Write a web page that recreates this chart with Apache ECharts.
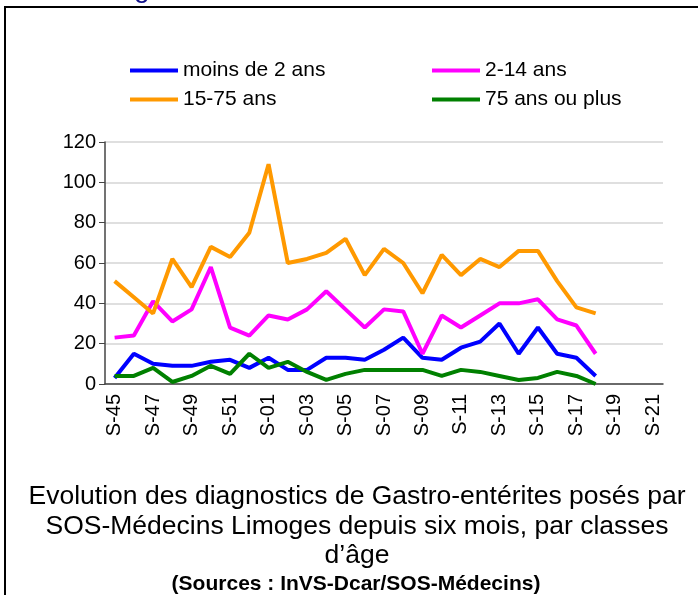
<!DOCTYPE html>
<html>
<head>
<meta charset="utf-8">
<script src="https://cdn.jsdelivr.net/npm/echarts@6/dist/echarts.min.js"></script>
<style>
html, body { margin: 0; padding: 0; background: #fff; }
#chart { width: 698px; height: 595px; }
</style>
</head>
<body>
<div id="chart"></div>
<script>
// semaines (S-45 ... S-52, S-01 ... S-21)
var weeks = ['S-45','S-46','S-47','S-48','S-49','S-50','S-51','S-52',
    'S-01','S-02','S-03','S-04','S-05','S-06','S-07','S-08','S-09','S-10',
    'S-11','S-12','S-13','S-14','S-15','S-16','S-17','S-18','S-19','S-20','S-21'];

var moins2 = [3,15,10,9,9,11,12,8,13,7,7,13,13,12,17,23,13,12,18,21,30,15,28,15,13,4];
var de2a14 = [23,24,41,31,37,58,28,24,34,32,37,46,37,28,37,36,15,34,28,34,40,40,42,32,29,15];
var de15a75 = [51,43,35,62,48,68,63,75,109,60,62,65,72,54,67,60,45,64,54,62,58,66,66,51,38,35];
var plus75 = [4,4,8,1,4,9,5,15,8,11,6,2,5,7,7,7,7,4,7,6,4,2,3,6,4,0];

var names = ['moins de 2 ans', '2-14 ans', '15-75 ans', '75 ans ou plus'];
var colors = ['#0000ff', '#ff00ff', '#ff9900', '#008000'];
var values = [moins2, de2a14, de15a75, plus75];

var captionLines = [
    'Evolution des diagnostics de Gastro-entérites posés par',
    'SOS-Médecins Limoges depuis six mois, par classes',
    'd\u2019âge'
];
var sourceText = '(Sources : InVS-Dcar/SOS-Médecins)';

var font = 'Liberation Sans, Arial, sans-serif';

var chart = echarts.init(document.getElementById('chart'));

var legendPos = [[130, 60], [432, 60], [130, 89], [432, 89]];
var legends = names.map(function (n, i) {
    return {
        data: [n],
        left: legendPos[i][0],
        top: legendPos[i][1],
        padding: 0,
        icon: 'rect',
        itemWidth: 48,
        itemHeight: 4,
        itemGap: 0,
        textStyle: { fontFamily: font, fontSize: 21, color: '#000', lineHeight: 21 }
    };
});

var series = names.map(function (n, i) {
    return {
        name: n,
        type: 'line',
        data: values[i],
        symbol: 'none',
        color: colors[i],
        lineStyle: { width: 4, color: colors[i] },
        animation: false
    };
});

var graphics = [
    { type: 'line', shape: { x1: 4, y1: 7, x2: 698, y2: 7 }, style: { stroke: '#000', lineWidth: 2 } },
    { type: 'line', shape: { x1: 5, y1: 7, x2: 5, y2: 595 }, style: { stroke: '#000', lineWidth: 2 } },
    // bas d'un titre coupé au-dessus du cadre
    { type: 'text', x: 134, y: 3, z: -1, style: { text: 'g', fontFamily: font, fontSize: 28, fill: '#10108a', textVerticalAlign: 'bottom' } }
];
captionLines.forEach(function (t, i) {
    graphics.push({
        type: 'text', x: 357, y: 497 + i * 29.5,
        style: { text: t, fontFamily: font, fontSize: 26.5, fill: '#000', textAlign: 'center', textVerticalAlign: 'middle' }
    });
});
graphics.push({
    type: 'text', x: 356, y: 584,
    style: { text: sourceText, fontFamily: font, fontSize: 21, fontWeight: 'bold', fill: '#000', textAlign: 'center', textVerticalAlign: 'middle' }
});

var option = {
    animation: false,
    backgroundColor: '#fff',
    legend: legends,
    grid: { left: 105, right: 35, top: 142, bottom: 211, containLabel: false },
    xAxis: {
        type: 'category',
        data: weeks,
        boundaryGap: true,
        axisLine: { lineStyle: { color: '#444', width: 1.5 } },
        axisTick: { interval: 0, length: 6, lineStyle: { color: '#444' } },
        axisLabel: { interval: 1, rotate: 90, margin: 10, fontFamily: font, fontSize: 20, color: '#000' }
    },
    yAxis: {
        type: 'value',
        min: 0,
        max: 120,
        interval: 20,
        axisLine: { show: true, lineStyle: { color: '#444', width: 1.5 } },
        axisTick: { show: true, length: 6, lineStyle: { color: '#444' } },
        axisLabel: { margin: 9, fontFamily: font, fontSize: 20, color: '#000' },
        splitLine: { lineStyle: { color: '#d4d4d4', width: 1.5 } }
    },
    series: series,
    graphic: graphics
};

chart.setOption(option);
</script>
</body>
</html>
